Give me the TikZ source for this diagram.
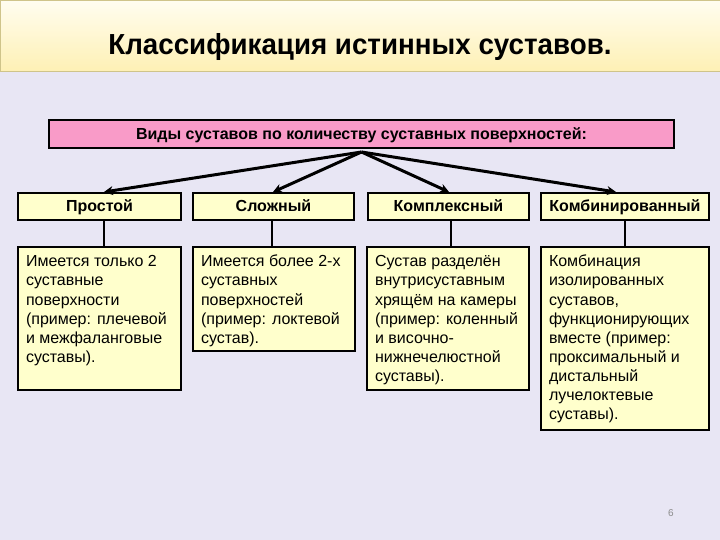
\documentclass[tikz,border=0pt]{standalone}
\usepackage{fontspec}
\setmainfont{Liberation Sans}
\usetikzlibrary{arrows.meta}
\definecolor{bgc}{HTML}{E8E6F4}
\definecolor{titletop}{HTML}{FFFDF0}
\definecolor{titlebot}{HTML}{FEF0B4}
\definecolor{titleline}{HTML}{CFC48A}
\definecolor{pinkc}{HTML}{F99BC8}
\definecolor{yelc}{HTML}{FFFFCC}
\tikzset{
  hdr/.style={draw=black, line width=2pt, fill=yelc, minimum height=27pt, inner sep=0pt, anchor=north west,
    text height=12.5pt, text depth=2.5pt, font=\bfseries\fontsize{16}{19}\selectfont},
  desc/.style={draw=black, line width=2pt, fill=yelc, inner xsep=8pt, inner ysep=6.5pt, anchor=north west,
    font=\fontsize{16}{19.1}\selectfont},
  arr/.style={line width=3pt, -{Stealth[length=9pt,width=9pt]}},
  vline/.style={line width=2pt}
}
\newcommand{\dtext}[3]{\parbox[c][#1pt][t]{#2pt}{\begin{tabular}[t]{@{}l@{}}#3\end{tabular}}}
\begin{document}
\begin{tikzpicture}[x=1pt,y=-1pt]
\useasboundingbox (0,0) rectangle (720,540);
\fill[bgc] (0,0) rectangle (720,540);
\shade[top color=titletop, bottom color=titlebot] (0,0) rectangle (720,72);
\draw[titleline, line width=1pt] (0,0.5) -- (720,0.5);
\draw[titleline, line width=1pt] (0,72) -- (720,72);
\draw[titleline, line width=1pt] (0.5,0) -- (0.5,72);
\node[font=\bfseries\fontsize{29}{34}\selectfont, anchor=base] (title) at (360,55) {\scalebox{0.957}[1]{Классификация истинных суставов.}};

\node[draw=black, line width=2pt, fill=pinkc, minimum width=625pt, minimum height=28pt, inner sep=0pt, anchor=north west,
  text height=13pt, text depth=1pt, font=\bfseries\fontsize{16}{19}\selectfont] (top) at (48,119) {Виды суставов по количеству суставных поверхностей:};
\coordinate (apex) at ([yshift=-3pt]top.south);

\node[hdr, minimum width=163pt] (h1) at (17,192) {Простой};
\node[hdr, minimum width=161pt] (h2) at (192,192) {Сложный};
\node[hdr, minimum width=161pt] (h3) at (367,192) {Комплексный};
\node[hdr, minimum width=168pt] (h4) at (540,192) {Комбинированный};

\draw[arr] (apex) -- ([xshift=4.5pt]h1.north);
\draw[arr] (apex) -- ([xshift=-0.5pt]h2.north);
\draw[arr] (apex) -- ([xshift=0.5pt]h3.north);
\draw[arr] (apex) -- ([xshift=-9pt]h4.north);

\node[desc] (d1) at (17,246) {\dtext{130}{147}{Имеется только 2\\суставные\\поверхности\\(пример: плечевой\\и межфаланговые\\суставы).}};
\node[desc] (d2) at (192,246) {\dtext{91}{146}{Имеется более 2-х\\суставных\\поверхностей\\(пример: локтевой\\сустав).}};
\node[desc] (d3) at (366,246) {\dtext{130}{146}{Сустав разделён\\внутрисуставным\\хрящём на камеры\\(пример: коленный\\и височно-\\нижнечелюстной\\суставы).}};
\node[desc] (d4) at (540,246) {\dtext{170}{152}{Комбинация\\изолированных\\суставов,\\функционирующих\\вместе (пример:\\проксимальный и\\дистальный\\лучелоктевые\\суставы).}};

\draw[vline] ([xshift=4.5pt]h1.south) -- ([xshift=4.5pt]h1.south |- d1.north);
\draw[vline] ([xshift=-1.5pt]h2.south) -- ([xshift=-1.5pt]h2.south |- d2.north);
\draw[vline] ([xshift=2.5pt]h3.south) -- ([xshift=2.5pt]h3.south |- d3.north);
\draw[vline] (h4.south) -- (h4.south |- d4.north);

\node[font=\fontsize{10}{11}\selectfont, text=black!45] (pg) at (671,513) {6};
\end{tikzpicture}
\end{document}
